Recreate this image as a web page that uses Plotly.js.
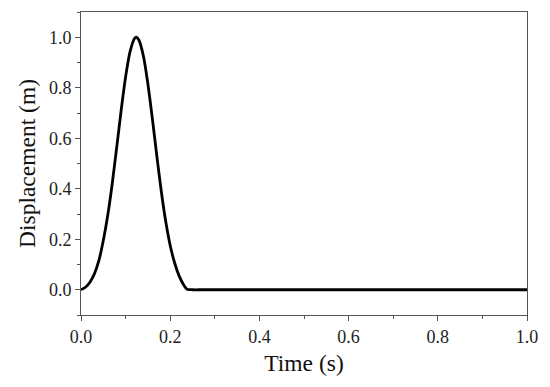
<!DOCTYPE html>
<html>
<head>
<meta charset="utf-8">
<script src="https://cdn.plot.ly/plotly-3.0.1.min.js"></script>
<style>html,body{margin:0;padding:0;background:#fff;}</style>
</head>
<body>
<div id="chart" style="width:550px;height:387px;"></div>
<script>
const timeS = [0.0, 0.01, 0.02, 0.03, 0.04, 0.05, 0.06, 0.07, 0.08, 0.09, 0.10, 0.11, 0.12, 0.124,
  0.13, 0.14, 0.15, 0.16, 0.17, 0.18, 0.19, 0.20, 0.21, 0.22, 0.23, 0.238, 0.25, 0.27, 0.3, 0.5, 0.75, 1.0];
const displacementM = [0.0, 0.01, 0.03, 0.063, 0.115, 0.195, 0.295, 0.42, 0.563, 0.71, 0.843, 0.943, 0.995, 1.0,
  0.988, 0.925, 0.815, 0.678, 0.53, 0.39, 0.27, 0.175, 0.106, 0.055, 0.02, 0.002, 0.0, 0.0, 0.0, 0.0, 0.0, 0.0];
const xTicks = [0.0, 0.2, 0.4, 0.6, 0.8, 1.0];
const yTicks = [0.0, 0.2, 0.4, 0.6, 0.8, 1.0];

const fontFam = 'Liberation Serif';
function axisCommon(ticks) {
  return {
    showline: true, mirror: true, linecolor: '#555', linewidth: 1,
    ticks: 'outside', ticklen: 5, tickwidth: 1, tickcolor: '#555',
    showgrid: false, zeroline: false,
    tickfont: {family: fontFam, size: 18, color: '#222'},
    tickmode: 'array', tickvals: ticks, ticktext: ticks.map(v => v.toFixed(1)),
    minor: {ticks: 'outside', ticklen: 3, tickwidth: 1, tickcolor: '#555', dtick: 0.1, showgrid: false}
  };
}

Plotly.newPlot('chart', [{
  x: timeS, y: displacementM, type: 'scatter', mode: 'lines',
  line: {color: '#000', width: 2.8, shape: 'spline', smoothing: 0.6},
  hoverinfo: 'skip'
}], {
  width: 550, height: 387,
  font: {family: fontFam, size: 18, color: '#222'},
  margin: {l: 81, r: 23, t: 12, b: 72},
  paper_bgcolor: '#fff', plot_bgcolor: '#fff',
  showlegend: false,
  xaxis: Object.assign(axisCommon(xTicks), {
    range: [0, 1],
    title: {text: 'Time (s)', font: {family: fontFam, size: 23.5, color: '#111'}, standoff: 8}
  }),
  yaxis: Object.assign(axisCommon(yTicks), {
    range: [-0.1, 1.1],
    title: {text: 'Displacement (m)', font: {family: fontFam, size: 23.5, color: '#111'}, standoff: 6}
  })
}, {staticPlot: true, displayModeBar: false});
</script>
</body>
</html>
